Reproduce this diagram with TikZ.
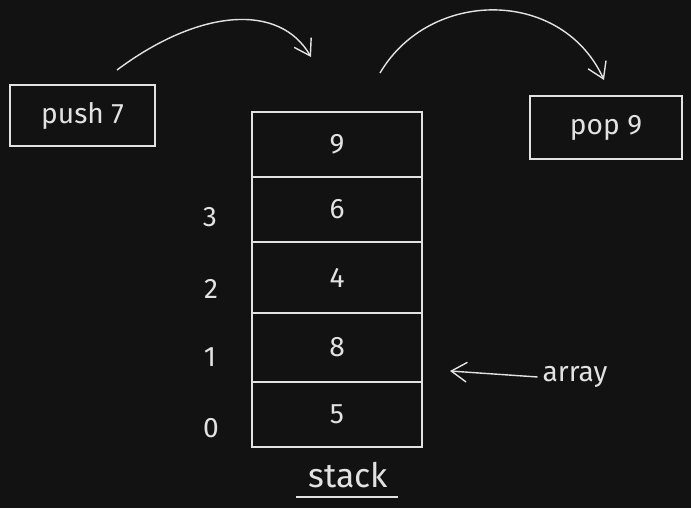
\documentclass[tikz,border=0pt]{standalone}
\usepackage{fontspec}
\setmainfont{Fira Sans}
\usepackage{xcolor}
\usetikzlibrary{arrows.meta}

\definecolor{board}{HTML}{121212}
\definecolor{chalk}{HTML}{E2E2E2}

\begin{document}
\begin{tikzpicture}[
    x=0.025cm,
    y=0.025cm,
    every node/.style={
        text=chalk,
        font=\fontsize{20}{24}\selectfont
    },
    box/.style={
        draw=chalk,
        line width=1pt,
        inner sep=0pt,
        outer sep=0pt
    },
    cell/.style={
        box,
        minimum width=4.25cm
    },
    flow/.style={
        draw=chalk,
        line width=1pt,
        -{Straight Barb[length=11pt,width=14pt,line width=1pt]}
    }
]


\useasboundingbox (0,0) rectangle (691,508);
\fill[board] (0,0) rectangle (691,508);


\node[box, minimum width=3.625cm, minimum height=1.525cm] (push) at (82.5,392.5) {push 7};
\node[box, minimum width=3.8cm, minimum height=1.575cm] (pop) at (606,380.5) {pop 9};


\foreach \name/\val/\yc/\h in {c4/9/363.5/65, c3/6/298.5/65, c2/4/230.5/71, c1/8/160.5/69, c0/5/93.5/65}
    \node[cell, minimum height={\h*0.025cm}] (\name) at (337,\yc) {\val};


\node (i3) at (210,291) {3};
\node (i2) at (211,219) {2};
\node (i1) at (210,151) {1};
\node (i0) at (211,80) {0};


\node[font=\fontsize{24}{28}\selectfont] (stk) at (348,33) {stack};
\coordinate (ulstart) at (296,11);
\coordinate (ulend) at (398,11);
\draw[chalk, line width=1pt] (ulstart) -- (ulend);


\coordinate (pushtail) at (117,438);
\coordinate (pushhead) at (311,451);
\draw[flow] (pushtail) .. controls +(83,62) and +(-31,54) .. (pushhead);

\coordinate (poptail) at (380,435);
\coordinate (pophead) at (604,428);
\draw[flow] (poptail) .. controls +(50,85) and +(-42,92) .. (pophead);


\node (arr) at (575,131) {array};
\coordinate (arrhead) at (450,137);
\draw[flow] (arr.west) -- (arrhead);

\end{tikzpicture}
\end{document}
